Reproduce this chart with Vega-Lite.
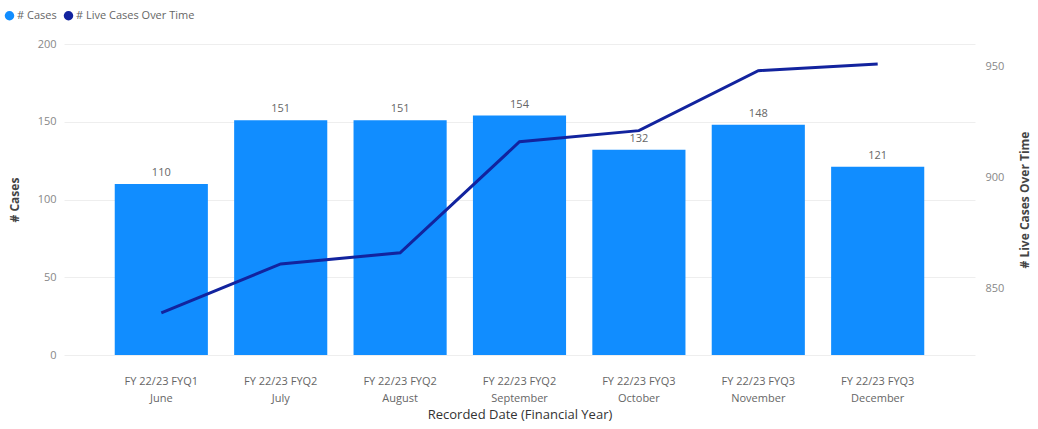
{
  "$schema": "https://vega.github.io/schema/vega-lite/v6.json",
  "autosize": {"type": "none"},
  "width": 911,
  "height": 311,
  "padding": {"left": 64, "top": 44, "right": 63, "bottom": 74},
  "background": "#ffffff",
  "config": {
    "view": {"stroke": null},
    "font": "Open Sans",
    "axis": {"labelFont": "Open Sans", "titleFont": "Open Sans"},
    "legend": {"labelFont": "Open Sans"}
  },
  "data": {
    "values": [
      {"period": "FY 22/23 FYQ1 June", "cases": 110, "live": 839},
      {"period": "FY 22/23 FYQ2 July", "cases": 151, "live": 861},
      {"period": "FY 22/23 FYQ2 August", "cases": 151, "live": 866},
      {"period": "FY 22/23 FYQ2 September", "cases": 154, "live": 916},
      {"period": "FY 22/23 FYQ3 October", "cases": 132, "live": 921},
      {"period": "FY 22/23 FYQ3 November", "cases": 148, "live": 948},
      {"period": "FY 22/23 FYQ3 December", "cases": 121, "live": 951}
    ]
  },
  "encoding": {
    "x": {
      "field": "period",
      "type": "nominal",
      "sort": null,
      "scale": {"paddingInner": 0.22, "paddingOuter": 0.425},
      "axis": {
        "title": "Recorded Date (Financial Year)",
        "labelAngle": 0,
        "labelExpr": "[slice(datum.label, 0, 13), slice(datum.label, 14)]",
        "labelFontSize": 11,
        "labelColor": "#666666",
        "labelPadding": 20,
        "labelLineHeight": 17,
        "domain": false,
        "ticks": false,
        "titleFontSize": 13,
        "titleFontWeight": "normal",
        "titleColor": "#333333",
        "titlePadding": 5
      }
    }
  },
  "layer": [
    {
      "mark": {"type": "bar", "color": "#118DFF"},
      "encoding": {
        "y": {
          "field": "cases",
          "type": "quantitative",
          "scale": {"domain": [0, 200], "nice": false},
          "axis": {
            "title": "# Cases",
            "values": [0, 50, 100, 150, 200],
            "grid": true,
            "gridColor": "#eeeeee",
            "domain": false,
            "ticks": false,
            "labelFontSize": 11,
            "labelColor": "#888888",
            "labelPadding": 8,
            "titleFontSize": 12,
            "titleFontWeight": "bold",
            "titleColor": "#444444",
            "titlePadding": 16
          }
        },
        "color": {
          "datum": "# Cases",
          "type": "nominal",
          "scale": {"domain": ["# Cases", "# Live Cases Over Time"], "range": ["#118DFF", "#12239E"]},
          "legend": {
            "title": null,
            "orient": "none",
            "legendX": -60,
            "legendY": -34,
            "direction": "horizontal",
            "symbolType": "circle",
            "symbolSize": 90,
            "symbolStrokeWidth": 0,
            "labelFontSize": 11,
            "labelColor": "#666666",
            "labelOffset": 2,
            "columnPadding": 6
          }
        }
      }
    },
    {
      "mark": {"type": "text", "dy": -11, "fontSize": 11, "color": "#666666"},
      "encoding": {
        "y": {"field": "cases", "type": "quantitative", "scale": {"domain": [0, 200], "nice": false}, "axis": null},
        "text": {"field": "cases", "type": "quantitative"}
      }
    },
    {
      "mark": {"type": "line", "strokeWidth": 3},
      "encoding": {
        "y": {
          "field": "live",
          "type": "quantitative",
          "scale": {"domain": [820, 960], "nice": false, "zero": false},
          "axis": {
            "orient": "right",
            "title": "# Live Cases Over Time",
            "values": [850, 900, 950],
            "grid": false,
            "domain": false,
            "ticks": false,
            "labelFontSize": 11,
            "labelColor": "#888888",
            "labelPadding": 10,
            "titleAngle": 270,
            "titleFontSize": 12,
            "titleFontWeight": "bold",
            "titleColor": "#444444",
            "titlePadding": 28
          }
        },
        "color": {"datum": "# Live Cases Over Time", "type": "nominal"}
      }
    }
  ],
  "resolve": {"scale": {"y": "independent"}}
}
